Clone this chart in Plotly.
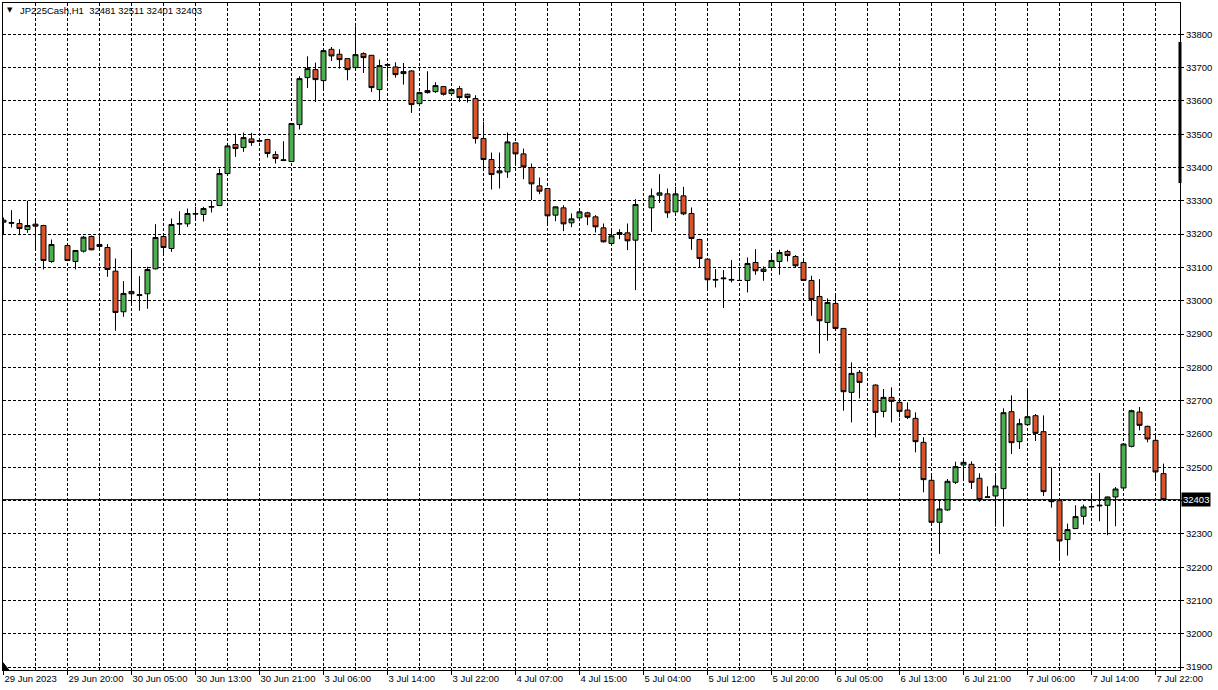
import plotly.graph_objects as go

symbol = "JP225Cash,H1"

tick_labels = ["29 Jun 2023", "29 Jun 20:00", "30 Jun 05:00", "30 Jun 13:00", "30 Jun 21:00",
               "3 Jul 06:00", "3 Jul 14:00", "3 Jul 22:00", "4 Jul 07:00", "4 Jul 15:00",
               "5 Jul 04:00", "5 Jul 12:00", "5 Jul 20:00", "6 Jul 05:00", "6 Jul 13:00",
               "6 Jul 21:00", "7 Jul 06:00", "7 Jul 14:00", "7 Jul 22:00"]
tick_bars = [8 * k for k in range(len(tick_labels))]

N = None
opens = [33236, 33235, 33232, 33214, 33230, 33226, 33118, N, 33166, 33118,
         33149, 33193, 33169, 33160, 33089, 32967, 33028, 33016, 33021, 33096,
         33193, 33157, 33230, 33231, 33260, 33259, 33281, 33286, 33382, 33469,
         33460, 33486, 33479, 33484, 33439, 33421, 33418, 33529, 33670, 33694,
         33661, 33755, 33740, 33727, 33700, 33742, 33737, 33634, 33707, 33702,
         33682, 33690, 33592, 33631, 33628, 33643, 33622, 33637, 33620, 33607,
         33487, 33424, 33384, 33387, 33474, 33441, 33400, 33345, 33337, 33257,
         33279, 33234, 33249, 33264, 33252, 33219, 33172, 33205, 33204, 33182,
         N, 33279, 33317, 33321, 33267, 33315, 33262, 33184, 33125, 33062,
         33066, 33062, 33061, 33061, 33115, 33088, 33100, 33118, 33148, 33133,
         33115, 33061, 33013, 32935, 32992, 32917, 32725, 32785, N, 32747,
         32668, 32710, 32695, 32672, 32647, 32575, 32461, 32335, 32372, 32455,
         32507, 32509, 32467, 32410, 32414, 32436, 32667, 32577, 32628, 32655,
         32607, 32402, 32400, 32283, 32316, 32353, 32381, 32384, 32386, 32411,
         32438, 32563, 32666, 32623, 32581, 32481]
highs = [33250, 33272, 33245, 33300, 33245, 33228, 33184, N, 33168, 33152,
         33195, 33196, 33194, 33170, 33127, 33059, 33157, 33074, 33102, 33230,
         33197, 33247, 33269, 33277, 33282, 33282, 33301, 33397, 33467, 33502,
         33505, 33504, 33484, 33486, 33449, 33479, 33533, 33674, 33734, 33715,
         33752, 33762, 33755, 33728, 33824, 33746, 33738, 33724, 33714, 33716,
         33714, 33692, 33628, 33689, 33656, 33645, 33636, 33645, 33622, 33617,
         33538, 33445, 33445, 33505, 33476, 33457, 33412, 33370, 33339, 33283,
         33287, 33262, 33275, 33267, 33257, 33232, 33212, 33215, 33232, 33305,
         N, 33337, 33380, 33337, 33342, 33342, 33280, 33186, 33127, 33095,
         33092, 33122, 33100, 33130, 33155, 33103, 33142, 33153, 33153, 33137,
         33120, 33075, 33065, 33007, 33015, 32918, 32815, 32792, N, 32749,
         32735, 32740, 32705, 32695, 32665, 32590, 32480, 32400, 32465, 32517,
         32520, 32518, 32482, 32443, 32474, 32677, 32716, 32646, 32730, 32660,
         32656, 32499, 32402, 32331, 32386, 32388, 32421, 32483, 32412, 32441,
         32571, 32673, 32681, 32625, 32601, 32511]
lows = [33200, 33220, 33197, 33204, 33150, 33094, 33114, N, 33119, 33094,
        33145, 33152, 33152, 33072, 32910, 32952, 32990, 32970, 32976, 33094,
        33144, 33147, 33200, 33222, 33240, 33238, 33265, 33285, 33381, 33432,
        33447, 33465, 33476, 33430, 33412, 33420, 33417, 33514, 33639, 33597,
        33634, 33720, 33697, 33662, 33699, 33684, 33627, 33602, 33670, 33670,
        33649, 33564, 33584, 33622, 33624, 33616, 33618, 33597, 33595, 33472,
        33389, 33334, 33337, 33369, 33405, 33365, 33302, 33320, 33227, 33239,
        33209, 33221, 33239, 33227, 33205, 33175, 33170, 33185, 33152, 33032,
        N, 33207, 33294, 33249, 33265, 33257, 33153, 33100, 33030, 33040,
        32978, 33055, 33060, 33025, 33078, 33060, 33098, 33078, 33118, 33100,
        33060, 32955, 32842, 32880, 32916, 32670, 32635, 32707, N, 32590,
        32650, 32635, 32650, 32645, 32545, 32425, 32327, 32240, 32370, 32450,
        32465, 32435, 32397, 32409, 32322, 32322, 32540, 32555, 32627, 32579,
        32414, 32379, 32220, 32235, 32315, 32328, 32380, 32338, 32296, 32323,
        32437, 32560, 32611, 32575, 32467, 32401]
closes = [33242, 33233, 33217, 33226, 33224, 33121, 33169, N, 33121, 33151,
          33191, 33153, 33163, 33094, 32965, 33022, 33021, 33018, 33094, 33190,
          33160, 33229, 33232, 33262, 33262, 33277, 33283, 33382, 33465, 33457,
          33490, 33475, 33481, 33442, 33427, 33423, 33532, 33667, 33697, 33664,
          33751, 33735, 33724, 33694, 33739, 33730, 33640, 33706, 33709, 33679,
          33688, 33589, 33625, 33625, 33646, 33620, 33634, 33610, 33610, 33487,
          33424, 33379, 33390, 33477, 33441, 33402, 33351, 33329, 33255, 33282,
          33231, 33246, 33267, 33252, 33222, 33177, 33195, 33199, 33180, 33289,
          N, 33315, 33324, 33264, 33321, 33261, 33187, 33127, 33063, 33064,
          33068, 33064, 33061, 33112, 33090, 33095, 33121, 33145, 33136, 33105,
          33061, 33004, 32940, 32995, 32917, 32727, 32782, 32755, N, 32665,
          32710, 32698, 32668, 32650, 32577, 32463, 32335, 32375, 32458, 32502,
          32515, 32455, 32403, 32411, 32444, 32664, 32574, 32631, 32652, 32602,
          32427, 32397, 32279, 32313, 32352, 32381, 32382, 32386, 32411, 32435,
          32570, 32670, 32626, 32585, 32486, 32403]

y_ticks = list(range(31900, 33801, 100))
last_close = closes[-1]
# the current-price tag covers the scale label next to it (as in the terminal)
y_tick_text = ["" if abs(v - last_close) < 30 else str(v) for v in y_ticks]

bars = list(range(len(closes)))
grid_minor = [4 + 8 * k for k in range(18)]

BULL = "#4cb050"
BEAR = "#d9542b"
GRID = dict(gridcolor="black", gridwidth=1, griddash="3px,2px")
FONT = "Liberation Sans"

fig = go.Figure()
fig.add_trace(go.Candlestick(
    x=bars, open=opens, high=highs, low=lows, close=closes,
    increasing=dict(fillcolor=BULL, line=dict(color="black", width=1)),
    decreasing=dict(fillcolor=BEAR, line=dict(color="black", width=1)),
    whiskerwidth=0, showlegend=False, hoverinfo="skip",
))

fig.add_shape(type="line", xref="paper", x0=0, x1=1, yref="y", y0=last_close, y1=last_close,
              line=dict(color="black", width=1), layer="above")

fig.add_annotation(xref="paper", x=1, xshift=1, yref="y", y=last_close, text=str(last_close),
                   showarrow=False, xanchor="left", yanchor="middle", bgcolor="black",
                   font=dict(color="white", size=9.5, family=FONT), borderpad=1)

title_text = "{}\u00a0\u00a0{} {} {} {}".format(symbol, opens[-1], highs[-1], lows[-1], closes[-1])
fig.add_annotation(xref="paper", x=0, xshift=15, yref="paper", y=1, yshift=-7,
                   text=title_text, showarrow=False, xanchor="left", yanchor="middle",
                   font=dict(color="black", size=9.5, family=FONT))
fig.add_annotation(xref="paper", x=0, xshift=2, yref="paper", y=1, yshift=-7,
                   text="▼", showarrow=False, xanchor="left", yanchor="middle",
                   font=dict(color="black", size=7, family="DejaVu Sans"))

# right-side scale marker and corner marker
fig.add_shape(type="line", xref="paper", x0=1, x1=1, yref="paper", y0=0.730, y1=0.9415,
              line=dict(color="black", width=3), layer="above")
fig.add_shape(type="path", xref="paper", yref="paper",
              path="M 0,0 L 0,0.011 L 0.005,0 Z", fillcolor="black",
              line=dict(color="black", width=1), layer="above")

fig.update_layout(
    width=1218, height=690,
    margin=dict(l=3, r=38, t=3, b=20),
    paper_bgcolor="white", plot_bgcolor="white",
    font=dict(family=FONT, size=9.5, color="black"),
    boxgap=0.375, boxgroupgap=0,
    showlegend=False,
)
fig.update_xaxes(
    range=[-0.06, 147.06], rangeslider=dict(visible=False),
    tickmode="array", tickvals=tick_bars, ticktext=tick_labels,
    ticks="outside", ticklen=4, tickcolor="black", tickwidth=1,
    ticklabelposition="outside right",
    showgrid=True, **GRID,
    minor=dict(tickvals=grid_minor, showgrid=True, ticks="", **GRID),
    showline=True, linecolor="black", linewidth=1, mirror=True,
    zeroline=False, fixedrange=True,
)
fig.update_yaxes(
    range=[31891.5, 33894], side="right",
    tickmode="array", tickvals=y_ticks, ticktext=y_tick_text,
    ticks="outside", ticklen=3, tickcolor="black", tickwidth=1,
    showgrid=True, **GRID,
    showline=True, linecolor="black", linewidth=1, mirror=True,
    zeroline=False, fixedrange=True,
)

fig.write_html("out.html", config={"displayModeBar": False},
               post_script="document.body.style.margin='0px';document.body.style.overflow='hidden';")
